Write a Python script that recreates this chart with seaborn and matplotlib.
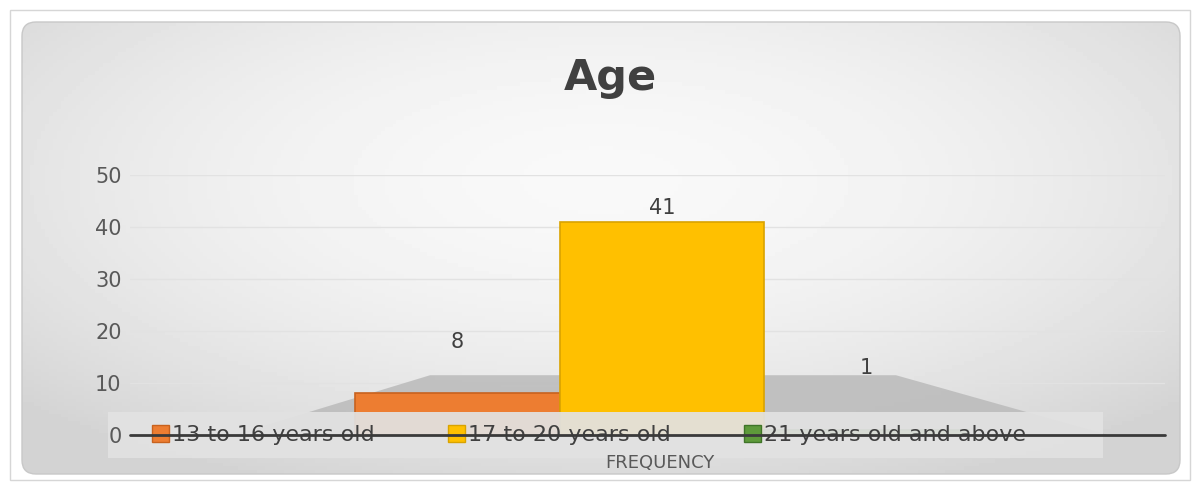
import matplotlib
matplotlib.use("Agg")
import matplotlib.pyplot as plt
import seaborn as sns
import numpy as np
from matplotlib.patches import FancyBboxPatch, Rectangle, Patch, Polygon

# data
age_groups = ["13 to 16 years old", "17 to 20 years old", "21 years old and above"]
frequency = [8, 41, 1]
bar_colors = ["#ED7D31", "#FFC000", "#5E9A3A"]
edge_colors = ["#C8621E", "#D9A300", "#3F7428"]
y_ticks = [0, 10, 20, 30, 40, 50]
label_pad = [30, 3, 37]   # the 3D chart shows labels at uneven heights

sns.set_theme(style="white")
plt.rcParams['font.family'] = ['DejaVu Sans']

W, H = 1201, 487
fig = plt.figure(figsize=(W / 100, H / 100), dpi=100)
fig.patch.set_facecolor("white")

# background panel with soft radial gradient
bg = fig.add_axes([0, 0, 1, 1])
bg.set_xlim(0, W)
bg.set_ylim(H, 0)
bg.axis("off")
gx, gy = np.meshgrid(np.linspace(-1, 1, 300), np.linspace(-1, 1, 120))
r = np.sqrt((gx * 0.85) ** 2 + ((gy + 0.3) * 0.8) ** 2)
grad = np.clip(0.975 - 0.11 * r ** 1.8, 0.83, 1.0)
im = bg.imshow(grad, cmap="gray", vmin=0, vmax=1, extent=[22, 1180, 474, 22],
               aspect="auto", zorder=1)
panel = FancyBboxPatch((22, 22), 1158, 452, boxstyle="round,pad=0,rounding_size=14",
                       transform=bg.transData, facecolor="none", edgecolor="#c8c8c8", lw=1, zorder=2)
bg.add_patch(panel)
im.set_clip_path(panel)
bg.add_patch(Rectangle((10, 10), 1180, 470, facecolor="none", edgecolor="#d6d6d6", lw=1, zorder=0))

# main plot
ax = fig.add_axes([130 / W, (H - 435) / H, 1035 / W, 260 / H])
ax.set_facecolor("none")

# floor decoration
ax.add_patch(Polygon([[0.10, 0.0], [0.945, 0.0], [0.74, 0.23], [0.29, 0.23]],
                     closed=True, transform=ax.transAxes, facecolor="#bababa",
                     edgecolor="none", alpha=0.85, zorder=0.5))

sns.barplot(x=age_groups, y=frequency, hue=age_groups, palette=bar_colors,
            width=1.0, ax=ax, legend=False, saturation=1, zorder=2)
for patch, ec in zip(ax.patches[-3:], edge_colors):
    patch.set_edgecolor(ec)
    patch.set_linewidth(1.2)

for cont, pad in zip(ax.containers, label_pad):
    lbls = ax.bar_label(cont, padding=pad, fontsize=15, color="#404040")
    for t in lbls:
        t.set_zorder(8)

ax.set_xlim(-1.60, 3.46)
ax.set_ylim(0, 50)
ax.set_yticks(y_ticks)
ax.tick_params(axis="y", labelsize=15, labelcolor="#595959", length=0, pad=6)
ax.set_xticks([])
ax.set_xlabel("")
ax.set_ylabel("")
for s in ax.spines.values():
    s.set_visible(False)
# faint gridlines behind the bars, tick labels on top of the legend box
ax.grid(False)
for yt in y_ticks[1:]:
    ax.axhline(yt, color="#e2e2e2", lw=1, zorder=0.3)
ax.yaxis.set_zorder(9)

# legend box
ax.add_patch(Rectangle(((108 - 130) / 1035, -23 / 260), 995 / 1035, 46 / 260,
                       transform=ax.transAxes, facecolor="#e2e2e2", edgecolor="none",
                       alpha=0.93, zorder=5, clip_on=False))

handles = [Patch(facecolor=c, edgecolor=e, label=l) for c, e, l in zip(bar_colors, edge_colors, age_groups)]
leg = ax.legend(handles=handles, ncol=3, loc="center left",
                bbox_to_anchor=((152 - 130) / 1035, 0.0),
                frameon=False, fontsize=16, handlelength=0.75, handleheight=0.85,
                handletextpad=0.15, columnspacing=3.3, borderaxespad=0, borderpad=0,
                labelcolor="#404040")
leg.set_zorder(6)

ax.axhline(0, color="#3a3a3a", lw=2, zorder=7, clip_on=False)

fig.text(660 / W, 1 - 463 / H, "FREQUENCY", ha="center", va="center", fontsize=13, color="#595959")
fig.text(610 / W, 1 - 78 / H, "Age", ha="center", va="center", fontsize=31,
         fontweight="bold", color="#404040")

fig.savefig("out.png", dpi=100)
